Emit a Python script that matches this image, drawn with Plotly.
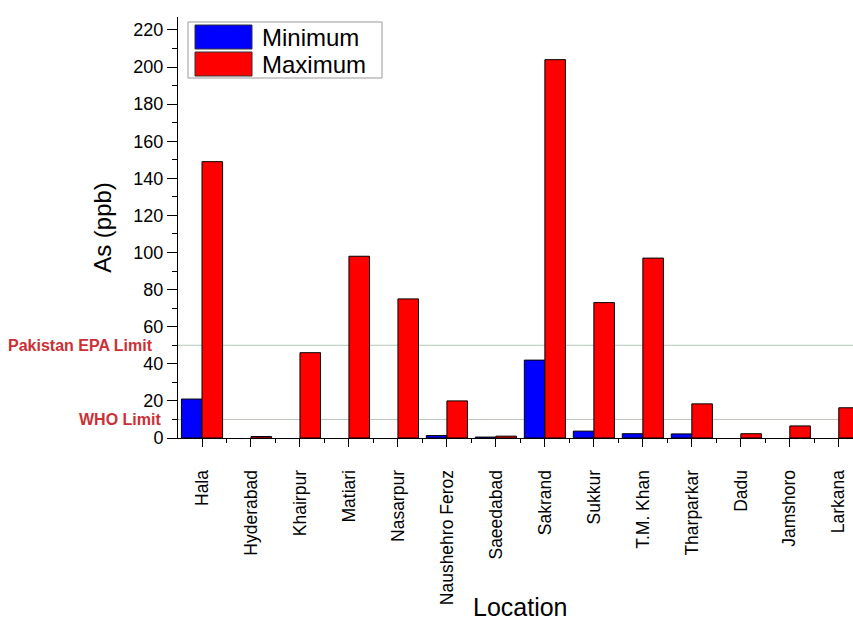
import plotly.graph_objects as go

locations = ["Hala", "Hyderabad", "Khairpur", "Matiari", "Nasarpur", "Naushehro Feroz",
             "Saeedabad", "Sakrand", "Sukkur", "T.M. Khan", "Tharparkar", "Dadu",
             "Jamshoro", "Larkana"]
minimum = [21, None, None, None, None, 1.3, 0.5, 42, 3.7, 2.3, 2.2, None, None, None]
maximum = [149, 0.8, 46, 98, 75, 20, 1, 204, 73, 97, 18.4, 2.3, 6.5, 16.3]
limit_names = ["Pakistan EPA Limit", "WHO Limit"]
limit_values = [50, 10]
series_names = ["Minimum", "Maximum"]
series_colors = ["#0000ff", "#ff0000"]

FONT = "Arial, Liberation Sans, sans-serif"
W, H = 853, 625
L, R, T, B = 178, 0, 17, 187
PW, PH = W - L - R, H - T - B

def px(x):
    return (x - L) / PW

def py(y):
    return (H - B - y) / PH

idx = list(range(len(locations)))

fig = go.Figure()
for name, vals, col in zip(series_names, [minimum, maximum], series_colors):
    fig.add_trace(go.Bar(x=idx, y=vals, name=name, marker_color=col,
                         marker_line_color="black", marker_line_width=1,
                         showlegend=False))

shapes = []
annotations = []
for nm, v, xs in zip(limit_names, limit_values, [-23, -15]):
    shapes.append(dict(type="line", xref="paper", x0=0, x1=1, yref="y", y0=v, y1=v,
                       line=dict(color="#b3c6b8", width=1), layer="below"))
    annotations.append(dict(text="<b>%s</b>" % nm, xref="paper", x=0, xanchor="right",
                            xshift=xs, yref="y", y=v, yanchor="middle", showarrow=False,
                            font=dict(family=FONT, size=16, color="#cc2f35")))

# custom legend
shapes.append(dict(type="rect", xref="paper", yref="paper", x0=px(188), x1=px(382),
                   y0=py(78), y1=py(22), line=dict(color="#999999", width=1),
                   fillcolor="white", layer="above"))
for i, (nm, col) in enumerate(zip(series_names, series_colors)):
    top = 25 + i * 27
    shapes.append(dict(type="rect", xref="paper", yref="paper", x0=px(195), x1=px(252),
                       y0=py(top + 24), y1=py(top), fillcolor=col,
                       line=dict(color="#333333", width=1), layer="above"))
    annotations.append(dict(text=nm, xref="paper", yref="paper", x=px(260), xanchor="left",
                            y=py(top + 12), yanchor="middle", showarrow=False,
                            font=dict(family=FONT, size=24, color="black")))

annotations.append(dict(text="Location", xref="paper", yref="paper", x=px(520),
                        y=py(607), xanchor="center", yanchor="middle", showarrow=False,
                        font=dict(family=FONT, size=25, color="black")))

fig.update_layout(
    width=W, height=H, margin=dict(l=L, r=R, t=T, b=B, autoexpand=False),
    paper_bgcolor="white", plot_bgcolor="white",
    barmode="group", bargap=0.16, bargroupgap=0,
    shapes=shapes, annotations=annotations,
    font=dict(family=FONT, color="black"),
)
fig.update_xaxes(
    range=[-0.49, 13.29], tickmode="array", tickvals=idx, ticktext=locations,
    tickangle=-90, tickfont=dict(size=17.5), ticks="outside", ticklen=8, tickwidth=1,
    tickcolor="black", showline=True, linecolor="black", linewidth=1,
    showgrid=False, zeroline=False, ticklabelstandoff=16,
    minor=dict(tickmode="array", tickvals=[i - 0.5 for i in idx] + [len(idx) - 0.5],
               ticks="outside", ticklen=4, tickcolor="black", showgrid=False),
)
fig.update_yaxes(
    range=[0, 227], dtick=20, tick0=0, tickfont=dict(size=18), ticks="outside",
    ticklen=10, tickwidth=1, tickcolor="black", showline=True, linecolor="black",
    linewidth=1, showgrid=False, zeroline=False,
    title=dict(text="As (ppb)", font=dict(size=24), standoff=14),
    minor=dict(dtick=10, ticks="outside", ticklen=5, tickcolor="black", showgrid=False),
)
fig.write_html("out.html")
